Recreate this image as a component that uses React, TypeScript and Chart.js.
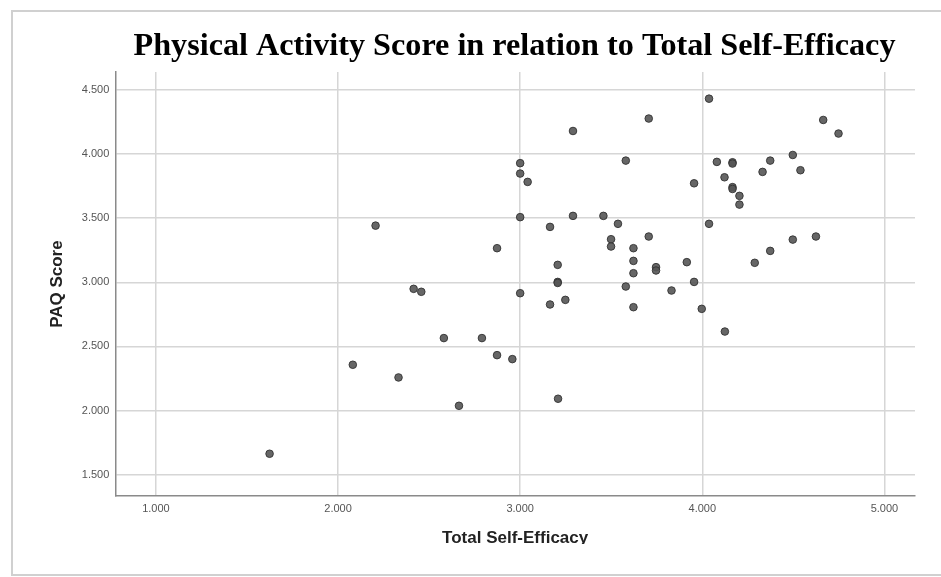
import React, { useEffect, useRef } from "react";
import { Chart, registerables } from "chart.js";

Chart.register(...registerables);

const chartTitle = "Physical Activity Score in relation to Total Self-Efficacy";
const xAxisTitle = "Total Self-Efficacy";
const yAxisTitle = "PAQ Score";
const xTicks = [1, 2, 3, 4, 5];
const yTicks = [1.5, 2, 2.5, 3, 3.5, 4, 4.5];

const selfEfficacy = [
  1.624, 2.081, 2.332, 2.581, 2.664, 2.79, 2.873, 2.957, 3.208, 4.124,
  2.206, 2.415, 2.457, 2.873, 3.0, 3.0, 3.0, 3.0, 4.037, 3.706,
  3.29, 4.664, 4.748, 3.041, 3.58, 4.08, 4.166, 4.166, 4.373, 4.497,
  4.331, 4.539, 3.955, 4.122, 4.166, 4.166, 4.204, 4.204, 3.29, 3.457,
  3.164, 3.537, 4.037, 3.499, 3.499, 3.706, 3.622, 3.622, 3.622, 3.206,
  3.206, 3.206, 3.164, 3.248, 3.622, 3.58, 3.746, 3.746, 3.831, 3.915,
  3.955, 3.997, 4.288, 4.373, 4.497, 4.624,
];
const paqScore = [
  1.663, 2.357, 2.258, 2.565, 2.037, 2.565, 2.432, 2.401, 2.092, 2.616,
  3.442, 2.949, 2.926, 3.266, 3.929, 3.848, 3.508, 2.915, 4.432, 4.277,
  4.18, 4.266, 4.16, 3.783, 3.949, 3.939, 3.936, 3.926, 3.949, 3.993,
  3.861, 3.874, 3.772, 3.819, 3.742, 3.728, 3.674, 3.606, 3.518, 3.518,
  3.432, 3.456, 3.456, 3.336, 3.279, 3.357, 3.266, 3.167, 3.071, 3.136,
  3.003, 2.995, 2.827, 2.863, 2.806, 2.967, 3.118, 3.092, 2.936, 3.157,
  3.003, 2.793, 3.152, 3.245, 3.333, 3.357,
];

const framePlugin = {
  id: "frame",
  beforeDraw(chart: any) {
    const ctx = chart.ctx;
    ctx.save();
    ctx.fillStyle = "#ffffff";
    ctx.fillRect(0, 0, chart.width, chart.height);
    ctx.strokeStyle = "#d0d0d0";
    ctx.lineWidth = 2;
    ctx.beginPath();
    ctx.moveTo(chart.width + 5, 11);
    ctx.lineTo(12, 11);
    ctx.lineTo(12, 575);
    ctx.lineTo(chart.width + 5, 575);
    ctx.stroke();
    ctx.restore();
  },
  afterDraw(chart: any) {
    const ctx = chart.ctx;
    ctx.save();
    ctx.fillStyle = "#ffffff";
    ctx.fillRect(13, 544, chart.width, 30);
    ctx.fillStyle = "#000000";
    ctx.font = "bold 32.2px 'Liberation Serif', 'Times New Roman', serif";
    ctx.textAlign = "center";
    ctx.textBaseline = "alphabetic";
    ctx.fillText(chartTitle, 514.5, 55);
    ctx.restore();
  },
};

export default function App() {
  const ref = useRef<HTMLCanvasElement>(null);
  useEffect(() => {
    if (!ref.current) return;
    const points = selfEfficacy.map((x, i) => ({ x, y: paqScore[i] }));
    const chart = new Chart(ref.current, {
      type: "scatter",
      data: {
        datasets: [
          {
            data: points,
            backgroundColor: "rgba(85,85,85,0.9)",
            borderColor: "rgba(50,50,50,0.9)",
            borderWidth: 1,
            pointRadius: 3.8,
          },
        ],
      },
      options: {
        animation: false,
        responsive: false,
        layout: { padding: { left: 47, right: 26, top: 72, bottom: 28.8 } },
        plugins: {
          legend: { display: false },
          tooltip: { enabled: false },
          title: { display: false },
        },
        scales: {
          x: {
            type: "linear",
            min: 0.777,
            max: 5.168,
            afterBuildTicks: (scale: any) => {
              scale.ticks = xTicks.map((v) => ({ value: v }));
            },
            ticks: {
              callback: (v: any) => Number(v).toFixed(3),
              color: "#555555",
              font: { family: "'Liberation Sans', Arial, sans-serif", size: 11 },
              padding: 6,
              maxRotation: 0,
            },
            grid: { color: "#d6d6d6", lineWidth: 1.5, drawTicks: false },
            border: { display: true, color: "#8a8a8a", width: 1.5 },
            title: {
              display: true,
              text: xAxisTitle,
              color: "#222222",
              font: { family: "'Liberation Sans', Arial, sans-serif", size: 17, weight: "bold" },
              padding: { top: 6.4, bottom: 0 },
            },
          },
          y: {
            type: "linear",
            min: 1.332,
            max: 4.64,
            afterBuildTicks: (scale: any) => {
              scale.ticks = yTicks.map((v) => ({ value: v }));
            },
            ticks: {
              callback: (v: any) => Number(v).toFixed(3),
              color: "#555555",
              font: { family: "'Liberation Sans', Arial, sans-serif", size: 11 },
              padding: 6,
            },
            grid: { color: "#d6d6d6", lineWidth: 1.5, drawTicks: false },
            border: { display: true, color: "#8a8a8a", width: 1.5 },
            title: {
              display: true,
              text: yAxisTitle,
              color: "#222222",
              font: { family: "'Liberation Sans', Arial, sans-serif", size: 17, weight: "bold" },
              padding: { top: 0, bottom: 8.4 },
            },
          },
        },
      },
      plugins: [framePlugin],
    });
    return () => chart.destroy();
  }, []);
  return (
    <div style={{ position: "absolute", left: 0, top: 0, width: 941, height: 577 }}>
      <canvas ref={ref} width={941} height={577} style={{ width: 941, height: 577 }} />
    </div>
  );
}
